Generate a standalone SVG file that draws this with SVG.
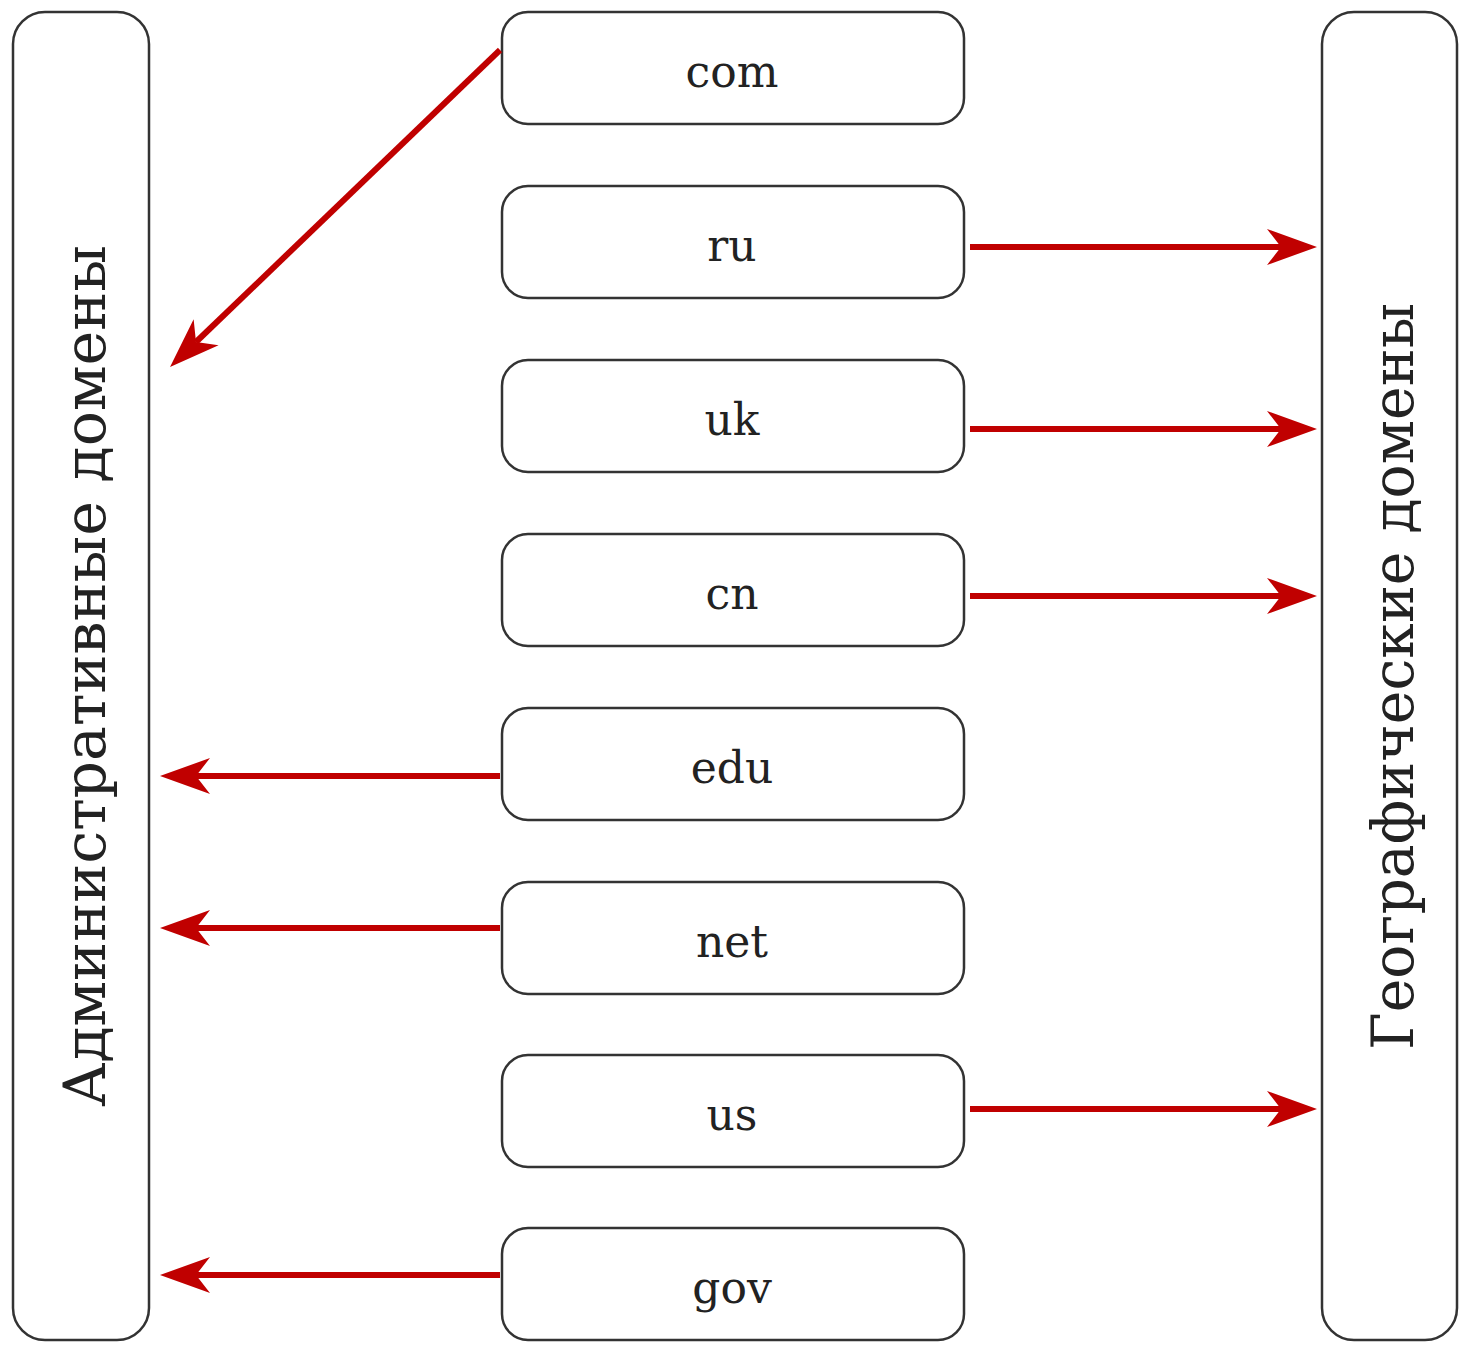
<svg xmlns="http://www.w3.org/2000/svg" width="1459" height="1348" viewBox="0 0 1459 1348">
<style>
.panel{fill:#fff;stroke:#333;stroke-width:2.5}
.node rect{fill:#fff;stroke:#333;stroke-width:2.5}
.lbl{font-family:"DejaVu Serif","Liberation Serif",serif;font-size:44px;fill:#222;text-anchor:middle}
.vlbl{font-family:"DejaVu Serif","Liberation Serif",serif;font-size:58px;fill:#222}
.arr{stroke:#c00000;stroke-width:6;fill:none;marker-end:url(#ah)}
</style>
<defs>
<marker id="ah" markerUnits="userSpaceOnUse" viewBox="-15 -20 52 40" refX="0" refY="0" markerWidth="52" markerHeight="40" orient="auto">
<path d="M36,0 L-14,-18 L0,0 L-14,18 Z" fill="#c00000"/>
</marker>
</defs>
<rect width="1459" height="1348" fill="#fff"/>
<g id="admin">
<rect class="panel" x="13" y="12" width="136" height="1328" rx="32"/>
<text class="vlbl" transform="translate(105,1107) rotate(-90)" textLength="862" lengthAdjust="spacingAndGlyphs">Административные домены</text>
</g>
<g id="geo">
<rect class="panel" x="1322" y="12" width="135" height="1328" rx="32"/>
<text class="vlbl" transform="translate(1413,1050) rotate(-90)" textLength="747" lengthAdjust="spacingAndGlyphs">Географические домены</text>
</g>
<g id="n-com" class="node"><rect x="502" y="12" width="462" height="112" rx="26"/><text class="lbl" x="732" y="87">com</text></g>
<g id="n-ru" class="node"><rect x="502" y="186" width="462" height="112" rx="26"/><text class="lbl" x="732" y="261">ru</text></g>
<g id="n-uk" class="node"><rect x="502" y="360" width="462" height="112" rx="26"/><text class="lbl" x="732" y="435">uk</text></g>
<g id="n-cn" class="node"><rect x="502" y="534" width="462" height="112" rx="26"/><text class="lbl" x="732" y="609">cn</text></g>
<g id="n-edu" class="node"><rect x="502" y="708" width="462" height="112" rx="26"/><text class="lbl" x="732" y="783">edu</text></g>
<g id="n-net" class="node"><rect x="502" y="882" width="462" height="112" rx="26"/><text class="lbl" x="732" y="957">net</text></g>
<g id="n-us" class="node"><rect x="502" y="1055" width="462" height="112" rx="26"/><text class="lbl" x="732" y="1130">us</text></g>
<g id="n-gov" class="node"><rect x="502" y="1228" width="462" height="112" rx="26"/><text class="lbl" x="732" y="1303">gov</text></g>
<g id="connectors">
<line class="arr" x1="500" y1="50" x2="196" y2="342"/>
<line class="arr" x1="970" y1="247" x2="1281" y2="247"/>
<line class="arr" x1="970" y1="429" x2="1281" y2="429"/>
<line class="arr" x1="970" y1="596" x2="1281" y2="596"/>
<line class="arr" x1="500" y1="776" x2="196" y2="776"/>
<line class="arr" x1="500" y1="928" x2="196" y2="928"/>
<line class="arr" x1="970" y1="1109" x2="1281" y2="1109"/>
<line class="arr" x1="500" y1="1275" x2="196" y2="1275"/>
</g>
</svg>
